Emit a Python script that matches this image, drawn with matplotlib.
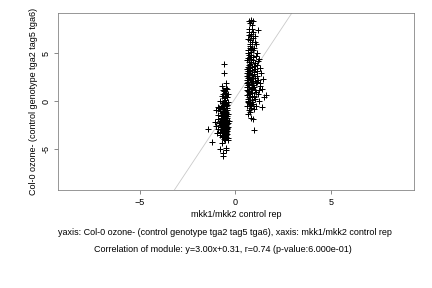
import matplotlib
matplotlib.use("Agg")
import matplotlib.pyplot as plt
import numpy as np

plt.rcParams['font.family'] = ['Liberation Sans', 'DejaVu Sans']

# cluster around x ~ -0.55
c1 = [(-0.62, 1.2), (-0.48, 1.4), (-0.55, 0.9), (-0.70, 0.6), (-0.45, 0.5), (-0.60, 0.3),
      (-0.52, 0.1), (-0.78, 0.0), (-0.40, -0.1), (-0.66, -0.2), (-0.58, -0.4), (-0.50, -0.5),
      (-0.72, -0.6), (-0.44, -0.7), (-0.62, -0.8), (-0.84, -0.7), (-0.55, -1.0), (-0.48, -1.1),
      (-0.68, -1.2), (-0.38, -1.3), (-0.60, -1.4), (-0.75, -1.5), (-0.52, -1.6), (-0.44, -1.7),
      (-0.65, -1.8), (-0.57, -1.9), (-0.80, -2.0), (-0.48, -2.1), (-0.62, -2.2), (-0.40, -2.3),
      (-0.70, -2.4), (-0.54, -2.5), (-0.46, -2.6), (-0.66, -2.7), (-0.58, -2.8), (-0.76, -2.9),
      (-0.50, -3.0), (-0.42, -3.1), (-0.62, -3.2), (-0.70, -3.3), (-0.55, -3.4), (-0.47, -3.5),
      (-0.64, -3.6), (-0.52, -3.7), (-0.40, -3.8), (-0.60, -3.9), (-0.68, -3.0), (-0.35, -2.0),
      (-0.82, -1.0), (-0.50, -0.2), (-0.63, -1.5), (-0.57, -2.4), (-0.45, -2.9), (-0.72, -2.1),
      (-0.53, -1.3), (-0.67, -0.5), (-0.41, -0.9), (-0.59, -3.5), (-0.49, -3.3), (-0.74, -1.7),
      (-0.56, -0.7), (-0.61, -2.6), (-0.43, -1.9), (-0.69, -3.7), (-0.51, -2.8), (-0.64, -1.1),
      (-0.47, -0.3), (-0.77, -2.5), (-0.54, -3.9), (-0.38, -2.7),
      (-0.46, -1.2), (-0.58, -1.6), (-0.50, -2.2), (-0.44, -2.4), (-0.56, -3.1), (-0.48, -3.7),
      (-0.42, -3.4), (-0.52, -4.0), (-0.45, -0.4), (-0.53, 0.4), (-0.47, 0.8), (-0.56, 1.1),
      (-0.43, -1.5), (-0.51, -1.8), (-0.55, -2.7), (-0.49, -2.5), (-0.41, -2.8), (-0.46, -3.2),
      (-0.60, -1.0), (-0.65, -2.0), (-0.73, -2.7), (-0.79, -3.2), (-0.86, -2.3), (-0.92, -2.9),
      (-1.05, -2.2), (-0.95, -3.3), (-0.88, -1.4), (-0.64, 0.8), (-0.52, -0.9), (-0.57, -0.1),
      (-1.40, -2.9), (-1.20, -4.2), (-0.90, -1.8), (-1.00, -2.6), (-0.80, -3.5), (-0.60, 3.9),
      (-0.60, 2.9), (-0.70, 1.6), (-0.50, 1.9), (-0.80, -5.0), (-0.65, -5.4), (-0.65, -5.7),
      (-0.50, -5.1), (-0.48, -4.9), (-0.90, -0.6), (-1.00, -0.9), (-0.45, 1.3), (-0.40, 0.8),
      (-0.40, -4.0), (-0.70, -4.3)]

# cluster around x ~ 0.85
c2 = [(0.70, 8.4), (0.80, 8.5), (0.92, 8.4), (0.75, 8.2), (0.86, 7.9), (0.70, 7.5),
      (0.95, 7.2), (1.20, 7.4), (0.80, 7.0), (1.02, 6.8), (0.68, 6.5), (0.90, 6.2),
      (1.10, 6.0), (0.78, 5.8), (1.00, 5.5), (0.65, 5.3), (0.85, 5.1), (1.15, 5.0),
      (0.72, 4.8), (0.95, 4.6), (1.25, 4.4), (0.62, 4.3), (0.82, 4.1), (1.05, 4.0),
      (0.70, 3.8), (0.90, 3.6), (1.30, 3.5), (0.60, 3.4), (0.78, 3.2), (1.00, 3.1),
      (1.35, 3.0), (0.66, 2.9), (0.88, 2.7), (1.12, 2.6), (0.74, 2.5), (0.95, 2.4),
      (1.45, 2.3), (0.62, 2.2), (0.84, 2.0), (1.08, 1.9), (0.70, 1.8), (0.92, 1.7),
      (1.28, 1.6), (0.64, 1.5), (0.80, 1.3), (1.02, 1.2), (1.40, 1.3), (0.68, 1.1),
      (0.88, 0.9), (1.18, 0.8), (0.62, 0.7), (0.76, 0.5), (0.98, 0.4), (1.62, 0.7),
      (1.52, 0.5), (0.66, 0.2), (0.86, 0.1), (1.22, 0.0), (0.72, -0.2), (0.94, -0.3),
      (1.42, -0.6), (0.64, -0.5), (0.82, -0.7), (1.08, -0.5), (0.70, -0.9), (0.98, -0.8),
      (0.76, -1.1), (0.68, -1.3), (0.80, -1.7), (0.92, -1.8), (0.96, -3.0), (0.75, 6.0),
      (0.82, 6.8), (0.72, 7.2), (0.88, 5.6), (0.68, 4.5), (0.92, 4.3), (0.78, 3.9),
      (1.18, 4.2), (0.66, 3.6), (0.86, 3.3), (1.05, 3.4), (0.74, 2.8), (1.20, 2.2),
      (0.64, 1.9), (0.90, 1.4), (1.10, 1.0), (0.70, 0.4), (0.84, -0.4), (1.00, 2.8),
      (1.15, 3.8), (0.60, 2.6), (0.93, 5.3), (0.77, 4.6), (1.05, 6.2), (0.83, 2.3),
      (0.71, 1.5), (0.97, 0.6), (1.30, 1.9), (0.65, -0.1),
      (0.66, 5.0), (0.70, 4.1), (0.63, 3.0), (0.67, 2.4), (0.72, 3.5), (0.69, 2.0),
      (0.63, 1.2), (0.73, 0.8), (0.66, 0.0), (0.75, 5.5), (0.80, 4.4), (0.74, 3.0),
      (0.79, 2.2), (0.86, 1.7), (0.91, 2.1), (0.97, 3.7), (0.84, 4.8), (0.81, 5.4),
      (0.77, 6.4), (0.72, 6.9), (0.88, 7.5), (0.93, 6.6), (1.08, 4.7), (1.12, 3.2),
      (1.16, 2.0), (1.24, 1.2), (1.06, 0.2), (0.89, -0.1), (0.76, -0.5), (0.87, 0.6),
      (0.98, 1.5), (1.04, 2.4), (0.68, 3.2), (0.71, 2.7), (0.67, 1.7), (0.74, 1.0)]

slope, intercept = 3.00, 0.31
ticks = [-5, 0, 5]
xlab = "mkk1/mkk2 control rep"
ylab = "Col-0 ozone- (control genotype tga2 tag5 tga6)"
line1 = "yaxis: Col-0 ozone- (control genotype tga2 tag5 tga6), xaxis: mkk1/mkk2 control rep"
line2 = "Correlation of module: y=3.00x+0.31, r=0.74 (p-value:6.000e-01)"

fig = plt.figure(figsize=(6, 4), dpi=72)
ax = fig.add_axes([0.134, 0.34, 0.824, 0.615])

pts = np.array(c1 + c2)
ax.scatter(pts[:, 0], pts[:, 1], marker='+', s=26, c='black', linewidths=1.0, zorder=3)

xs = np.array([-10, 10])
ax.plot(xs, slope * xs + intercept, color='#c8c8c8', lw=0.8, zorder=2)

ax.set_xlim(-9.27, 9.34)
ax.set_ylim(-9.24, 9.2)
ax.set_xticks(ticks)
ax.set_yticks(ticks)
ax.set_yticklabels([str(t) for t in ticks], rotation=90, va='center')
ax.tick_params(direction='out', length=4, width=0.6, colors='#404040', labelsize=9, labelcolor='black')
for s in ax.spines.values():
    s.set_color('#808080')
    s.set_linewidth(0.8)
ax.set_xlabel(xlab, fontsize=9, labelpad=3)
ax.set_ylabel(ylab, fontsize=9, labelpad=3)

fig.text(0.52, 0.191, line1, ha='center', va='center', fontsize=9)
fig.text(0.517, 0.132, line2, ha='center', va='center', fontsize=9)

fig.savefig("out.png", dpi=72)
